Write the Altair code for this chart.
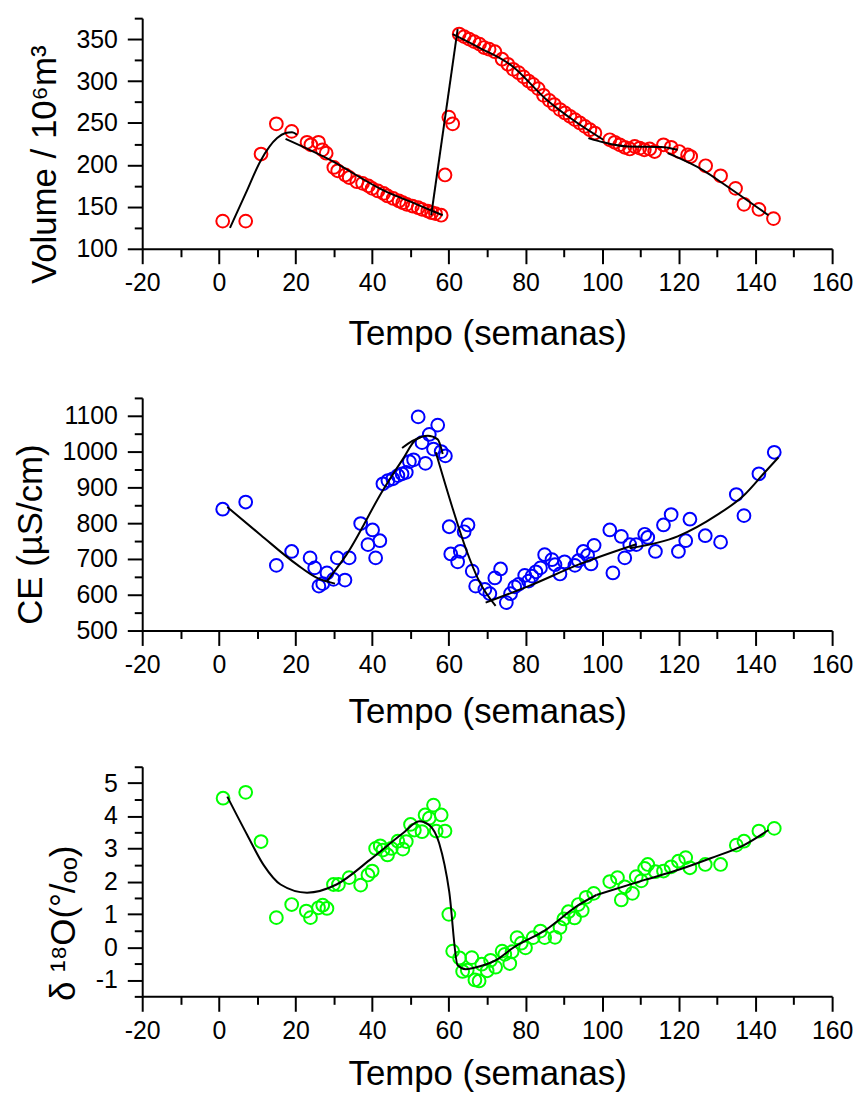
import altair as alt
import pandas as pd

# ---------------- data ----------------
# Panel 1: reservoir volume (10^6 m^3)
vol_t = [1, 7, 11, 15, 19, 23, 24, 26, 27, 28, 30, 31, 33, 34, 36, 37.5, 39, 40, 41.5, 43,
         44, 45.5, 47, 48, 49, 50.5, 52, 53, 54.5, 55.5, 56.5, 58, 59, 60, 61,
         62.7, 64, 65.3, 66.6, 68, 69.2, 70.5, 72, 73.9, 75.4, 76.8, 78.2, 79.5, 80.8, 82,
         83.3, 84.7, 86.2, 87.5, 89, 90.3, 91.6, 92.9, 94.2, 95.5, 96.8, 98.1, 102, 103.3,
         104.6, 105.9, 107.2, 108.5, 109.8, 111, 112.4, 113.7, 116, 118, 120.1, 122.3, 123.1,
         127, 130.9, 134.8, 137, 140.9, 144.7]
vol_v = [133, 133, 213, 249, 240, 227, 224, 227, 218, 214, 197, 193, 188, 185, 180, 178, 175, 172, 169, 166,
         163, 160, 157, 155, 153, 151, 149, 147, 145, 143, 142, 140, 188, 257, 249,
         356, 353, 350, 347, 344, 340, 338, 335, 326, 320, 314, 310, 305, 300, 296,
         291, 283, 277, 272, 266, 262, 258, 254, 250, 246, 242, 238, 230, 227,
         224, 221, 219, 222, 220, 218, 219, 216, 224, 221, 216, 212, 210,
         199, 187, 172, 153, 147, 136]
vol_fit = [
    ([2.9, 7, 10.9, 15.2, 17.4, 19.1, 20.4], [125, 166, 205, 232, 238, 239, 236]),
    ([17.4, 29, 42.8, 50.6, 58.4], [231, 206, 170, 155, 140]),
    ([55.4, 62.3], [140, 362]),
    ([61, 67.9, 76.5, 85.2, 92.9, 100.3], [356, 340, 318, 279, 252, 230]),
    ([96.4, 100.3, 106.7, 115.4, 119.7], [232, 227, 222, 221.5, 218]),
    ([117.1, 126.6, 131.8, 143.4], [214, 193, 177, 140]),
]

# Panel 2: electrical conductivity (uS/cm)
ce_t = [1, 7, 15, 19, 23.8, 25, 26.1, 27.1, 28.2, 29.9, 30.9, 32.9, 34, 37, 38.9, 40.1, 40.9, 42,
        42.8, 44.1, 45.4, 46.7, 47.8, 48.9, 49.7, 50.8, 52, 53, 53.9, 54.9, 56, 57.1, 58, 59.1,
        60.1, 60.5, 62.3, 63, 64, 65, 66.1, 67, 69.4, 70.7, 72, 73.5, 75, 76.1, 77.2, 78.2, 79.8,
        80.8, 81.7, 82.7, 83.9, 85, 86.9, 87.7, 89, 90.2, 92.9, 93.8, 95.1, 96.2, 97.1, 97.9,
        102, 102.8, 105, 105.9, 107.2, 108.9, 111.1, 111.9, 113.9, 116, 118, 119.9, 121.8,
        122.9, 126.9, 130.9, 135, 137, 140.9, 144.9]
ce_v = [839, 859, 682, 721, 703, 675, 624, 631, 661, 643, 703, 641, 703, 799, 740, 781, 703, 751,
        910, 919, 924, 933, 938, 942, 972, 977, 1097, 1025, 967, 1048, 1007, 1074, 1000, 988,
        790, 714, 692, 721, 776, 795, 666, 624, 615, 603, 647, 672, 578, 603, 622, 629, 654,
        638, 652, 664, 675, 712, 698, 684, 658, 692, 682, 695, 721, 710, 686, 738,
        781, 661, 763, 703, 740, 740, 769, 760, 721, 795, 824, 721, 751,
        811, 765, 747, 880, 821, 938, 998]
ce_fit = [
    ([2.2, 10.9, 20.4, 25.6, 30.3], [845, 767, 684, 647, 631]),
    ([28.2, 33.3, 42.8, 48, 51.5, 54.5, 57.1, 58.4], [638, 712, 892, 979, 1034, 1044, 1034, 993]),
    ([47.8, 50.5, 53], [1010, 1030, 1042]),
    ([56.6, 61, 64.4, 67.9, 72.2], [998, 841, 730, 638, 569]),
    ([69.6, 80.8, 93.8, 108.9], [578, 624, 684, 741]),
    ([107.2, 119.7, 130, 137, 142.1, 146], [730, 763, 823, 878, 938, 984]),
]

# Panel 3: delta 18O (per mil)
d18_t = [1.1, 7, 11, 15, 19, 22.8, 23.9, 26, 27.1, 28.2, 29.9, 31.2, 34, 37, 38.9, 40, 40.9, 42.1,
         42.8, 44, 45, 46.7, 48, 48.9, 50, 51, 53, 53.8, 54.9, 56, 56.7, 58, 59, 60, 61, 62.8,
         63.6, 64.8, 66, 66.8, 67.9, 68.6, 70, 70.9, 72.2, 73.9, 74.6, 75.9, 76.5, 77.8, 78.9,
         80, 82, 83.9, 85, 87.7, 89, 90, 91.2, 92.8, 93.8, 94.8, 95.8, 97.8, 102, 104, 105,
         105.9, 107.9, 108.9, 110.2, 111.1, 111.9, 113.9, 116, 118, 119.9, 121.8, 122.9, 126.9,
         130.9, 135, 137, 140.9, 144.9]
d18_v = [4.54, 4.72, 3.22, 0.90, 1.30, 1.10, 0.90, 1.20, 1.28, 1.18, 1.91, 1.91, 2.12, 1.89, 2.20, 2.32, 3.01, 3.09,
         2.96, 2.81, 3.01, 3.23, 2.99, 3.22, 3.74, 3.57, 3.52, 4.03, 3.93, 4.33, 3.54, 4.03, 3.54, 1.00, -0.12, -0.33,
         -0.74, -0.70, -0.32, -1.00, -1.03, -0.52, -0.72, -0.40, -0.61, -0.12, -0.22, -0.50, -0.14, 0.29, 0.12,
         -0.02, 0.29, 0.49, 0.29, 0.30, 0.60, 0.86, 1.08, 0.89, 1.30, 1.12, 1.52, 1.64, 2.00, 2.12, 1.44,
         1.84, 1.64, 2.15, 2.02, 2.40, 2.52, 2.30, 2.32, 2.45, 2.62, 2.73, 2.42, 2.52,
         2.52, 3.11, 3.23, 3.54, 3.62]
d18_fit = [
    ([2.2, 7.4, 11.7, 16.1, 23, 30.7, 39.4, 48, 52.3, 54.9, 57.5, 60.1, 62.3, 64.4, 67.9, 73.1,
      76.5, 85.2, 93.8, 98.5],
     [4.59, 3.42, 2.50, 1.91, 1.66, 1.91, 2.66, 3.47, 3.84, 3.72, 3.16, 1.69, -0.55, -0.67, -0.59, -0.34,
      -0.04, 0.52, 1.28, 1.59]),
    ([98.5, 111.1, 119.7, 128.3, 137, 143.4], [1.59, 2.05, 2.35, 2.71, 3.11, 3.57]),
]

x_major = list(range(-20, 161, 20))
x_minor = list(range(-10, 151, 20))

FONT = "Liberation Sans"
W = 694


def panel(ts, vs, color, fits, ydom, ymaj, ymin, ytitle, title_y, height, x_title_pad):
    pts_df = pd.DataFrame({"t": ts, "v": vs})
    rows = []
    for i, (xs, ys) in enumerate(fits):
        for a, b in zip(xs, ys):
            rows.append({"t": a, "v": b, "seg": i})
    fit_df = pd.DataFrame(rows)

    xs = alt.Scale(domain=[-20, 160], nice=False, zero=False)
    ysc = alt.Scale(domain=ydom, nice=False, zero=False)

    x_ax_major = alt.Axis(orient="bottom", values=x_major, tickSize=15, tickWidth=2,
                          tickColor="black", domainColor="black", domainWidth=2,
                          labelFont=FONT, labelFontSize=25, labelColor="black",
                          labelPadding=7, labelFlush=False, labelOverlap=False,
                          labelExpr="'' + datum.value", grid=False,
                          title="Tempo (semanas)", titleFont=FONT, titleFontSize=35,
                          titleFontWeight="normal", titleColor="black",
                          titlePadding=x_title_pad)
    x_ax_minor = alt.Axis(orient="bottom", values=x_minor, tickSize=8, tickWidth=2,
                          tickColor="black", domain=False, labels=False, grid=False,
                          title=None)
    y_ax_major = alt.Axis(orient="left", values=ymaj, tickSize=15, tickWidth=2,
                          tickColor="black", domainColor="black", domainWidth=2,
                          labelFont=FONT, labelFontSize=25, labelColor="black",
                          labelPadding=10, labelFlush=False, labelOverlap=False,
                          labelExpr="'' + datum.value", grid=False,
                          title=ytitle, titleFont=FONT, titleFontSize=35,
                          titleFontWeight="normal", titleColor="black",
                          titlePadding=14, titleY=title_y)
    y_ax_minor = alt.Axis(orient="left", values=ymin, tickSize=8, tickWidth=2,
                          tickColor="black", domain=False, labels=False, grid=False,
                          title=None)

    pts = alt.Chart(pts_df).mark_point(shape="circle", filled=False, size=165,
                                       strokeWidth=2, color=color, opacity=1).encode(
        x=alt.X("t:Q", scale=xs, axis=x_ax_major),
        y=alt.Y("v:Q", scale=ysc, axis=y_ax_major),
    )
    lines = alt.Chart(fit_df).mark_line(color="black", strokeWidth=2,
                                        interpolate="monotone").encode(
        x=alt.X("t:Q", scale=xs, axis=x_ax_minor),
        y=alt.Y("v:Q", scale=ysc, axis=y_ax_minor),
        detail="seg:N",
        order="t:Q",
    )
    return alt.layer(pts, lines).resolve_axis(x="independent", y="independent").properties(
        width=W, height=height)


p1 = panel(vol_t, vol_v, "#ff0000", vol_fit, [100, 375],
           list(range(100, 351, 50)), list(range(125, 376, 50)),
           "Volume / 10⁶m³", 147, 232, 21)
p2 = panel(ce_t, ce_v, "#0000ff", ce_fit, [500, 1150],
           list(range(500, 1101, 100)), list(range(550, 1151, 100)),
           "CE (µS/cm)", 137, 234, 18)
p3 = panel(d18_t, d18_v, "#00ff00", d18_fit, [-1.5, 5.5],
           [-1, 0, 1, 2, 3, 4, 5], [-1.5, -0.5, 0.5, 1.5, 2.5, 3.5, 4.5, 5.5],
           "δ ¹⁸O(°/ₒₒ)", 157, 231, 14)

inner = alt.vconcat(p2, p3, spacing=137, bounds="flush")
chart = alt.vconcat(p1, inner, spacing=150, bounds="flush").properties(
    padding={"left": 5, "top": 6, "right": 0, "bottom": 0}
).configure_view(strokeWidth=0)

chart.save("out.html", embed_options={"renderer": "svg", "actions": False})
